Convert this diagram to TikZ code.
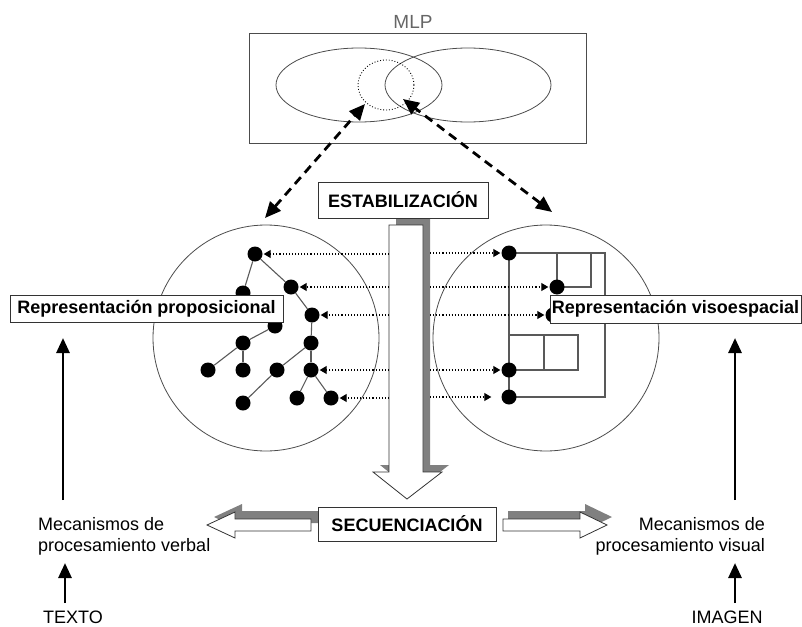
\documentclass[tikz,border=0pt]{standalone}
\usepackage{fontspec}
\setmainfont{Liberation Sans}
\usetikzlibrary{arrows.meta}

\begin{document}
\begin{tikzpicture}[x=1pt,y=-1pt,
	dot/.style={circle,fill=black,inner sep=0pt,minimum size=15pt},
	ln/.style={draw=black!65,line width=1.1pt},
	ring/.style={circle,draw=black!70,line width=0.8pt,inner sep=0pt,minimum size=226pt},
	lbl/.style={draw=black!80,fill=white,line width=0.9pt,inner sep=0pt,font=\fontsize{18}{21}\selectfont\bfseries},
	txt/.style={inner sep=0pt,font=\fontsize{18}{21}\selectfont},
	dotarr/.style={dotted,line width=1.1pt,-{Triangle[length=7pt,width=8pt]}},
	dasharr/.style={line width=2.8pt,dash pattern=on 9pt off 6pt,{Triangle[length=16pt,width=14pt]}-{Triangle[length=16pt,width=14pt]}},
	uparr/.style={line width=2.8pt,-{Triangle[length=15pt,width=13pt]}},
	shade/.style={fill=black!50},
	hollow/.style={draw=black!80,fill=white,line width=0.8pt}]

\useasboundingbox (0,0) rectangle (802,626);

% memoria a largo plazo
\node[draw=black!70,line width=0.8pt,minimum width=337pt,minimum height=110pt] (mlp) at (417.5,88) {};
\node[txt,anchor=base,text=black!60,font=\fontsize{19}{21}\selectfont] (mlptxt) at (413,29) {MLP};
\draw[black!70,line width=0.8pt] (359,85) ellipse [x radius=83,y radius=37];
\draw[black!70,line width=0.8pt] (468,85) ellipse [x radius=83,y radius=37];
\draw[dotted,line width=0.9pt] (386,85) ellipse [x radius=28,y radius=25];

% las dos representaciones
\node[ring] (lc) at (266,338) {};
\node[ring] (rc) at (546,338) {};

% arbol proposicional
\node[dot] (n1) at (255,254) {};
\node[dot] (n2) at (291,287) {};
\node[dot] (n3) at (243,293) {};
\node[dot] (n4) at (312,315) {};
\node[dot] (n5) at (275,326) {};
\node[dot] (n6) at (243,343) {};
\node[dot] (n7) at (311,343) {};
\node[dot] (n8) at (208,370) {};
\node[dot] (n9) at (243,370) {};
\node[dot] (n10) at (277,370) {};
\node[dot] (n11) at (311,370) {};
\node[dot] (n12) at (243,403) {};
\node[dot] (n13) at (297,398) {};
\node[dot] (n14) at (331,398) {};
\path[ln]
	(n1) edge (n3) (n1) edge (n2) (n2) edge (n4) (n4) edge (n7)
	(n7) edge (n11) (n11) edge (n13) (n11) edge (n14) (n7) edge (n10)
	(n10) edge (n12) (n3) edge (n5) (n5) edge (n6) (n6) edge (n8) (n6) edge (n9);

% esquema visoespacial
\coordinate (p1) at (509,253);
\coordinate (p2) at (557,287);
\coordinate (p3) at (553,315);
\coordinate (p4) at (509,370);
\coordinate (p5) at (509,397);
\coordinate (ra) at (605,253);
\coordinate (rb) at (605,397);
\draw[ln] (p1) -- (p5);
\draw[ln] (p1) -- (ra) -- (rb) -- (p5);
\draw[ln] (557,253) rectangle (p2) -- (591,287) -- (591,253);
\draw[ln] (509,335) rectangle (578,370) (544,335) -- (544,370);
\node[dot] (r1) at (p1) {};
\node[dot] (r2) at (p2) {};
\node[dot] (r3) at (p3) {};
\node[dot] (r4) at (p4) {};
\node[dot] (r5) at (p5) {};

% estabilizacion
\fill[shade,shift={(7,-7)}] (389,225) -- (423,225) -- (423,472) -- (442,472) -- (407,499) -- (373,472) -- (389,472) -- cycle;
\draw[hollow] (389,225) -- (423,225) -- (423,472) -- (442,472) -- (407,499) -- (373,472) -- (389,472) -- cycle;
\coordinate (sl) at (389,0);
\coordinate (sr) at (430,0);

\draw[dotarr,shorten >=1pt] (n1 -| sl) -- (n1);
\draw[dotarr,shorten >=1pt] (n2 -| sl) -- (n2);
\draw[dotarr,shorten >=1pt] (n4 -| sl) -- (n4);
\draw[dotarr,shorten >=1pt] (n11 -| sl) -- (n11);
\draw[dotarr,shorten >=1pt] (n14 -| sl) -- (n14);
\draw[dotarr,shorten >=1pt] (r1 -| sr) -- (r1);
\draw[dotarr,shorten >=1pt] (r2 -| sr) -- (r2);
\draw[dotarr,shorten >=1pt] (r3 -| sr) -- (r3);
\draw[dotarr,shorten >=1pt] (r4 -| sr) -- (r4);
\draw[dotarr,shorten >=10pt] (r5 -| sr) -- (r5);

% secuenciacion
\fill[shade,shift={(7,-8)}] (311,519) -- (235,519) -- (235,512) -- (207,525) -- (235,538) -- (235,531) -- (311,531) -- cycle;
\draw[hollow] (311,519) -- (235,519) -- (235,512) -- (207,525) -- (235,538) -- (235,531) -- (311,531) -- cycle;
\fill[shade,shift={(5,-8)}] (503,519) -- (580,519) -- (580,512) -- (607,525) -- (580,538) -- (580,531) -- (503,531) -- cycle;
\draw[hollow] (503,519) -- (580,519) -- (580,512) -- (607,525) -- (580,538) -- (580,531) -- (503,531) -- cycle;

\node[lbl,minimum width=170pt,minimum height=36pt] (estab) at (403,200) {ESTABILIZACIÓN};
\node[lbl,minimum width=178pt,minimum height=34pt] (secu) at (407,524) {SECUENCIACIÓN};
\node[lbl,minimum width=273pt,minimum height=27pt] (rprop) at (146.5,308.5) {Representación proposicional};
\node[lbl,minimum width=251pt,minimum height=28pt] (rviso) at (675.5,309) {Representación visoespacial};

% flechas a la MLP
\coordinate (la) at (265,218);
\coordinate (lb) at (365,104);
\coordinate (ra2) at (552,212);
\coordinate (rb2) at (403,99);
\draw[dasharr] (la) -- (lb);
\draw[dasharr] (ra2) -- (rb2);

% entradas
\node[txt,align=left,anchor=north west] (mverb) at (38,517) {Mecanismos de\\procesamiento verbal};
\node[txt,align=right,anchor=north east] (mvis) at (765,517) {Mecanismos de\\procesamiento visual};
\node[txt] (texto) at (73,617) {TEXTO};
\node[txt] (imagen) at (727,617) {IMAGEN};
\coordinate (tl1) at (63,500);
\coordinate (tl2) at (63,338);
\coordinate (tl3) at (65,603);
\coordinate (tl4) at (65,563);
\coordinate (tr1) at (735,500);
\coordinate (tr2) at (735,338);
\coordinate (tr3) at (735,603);
\coordinate (tr4) at (735,563);
\draw[uparr] (tl1) -- (tl2);
\draw[uparr] (tl3) -- (tl4);
\draw[uparr] (tr1) -- (tr2);
\draw[uparr] (tr3) -- (tr4);
\end{tikzpicture}
\end{document}
